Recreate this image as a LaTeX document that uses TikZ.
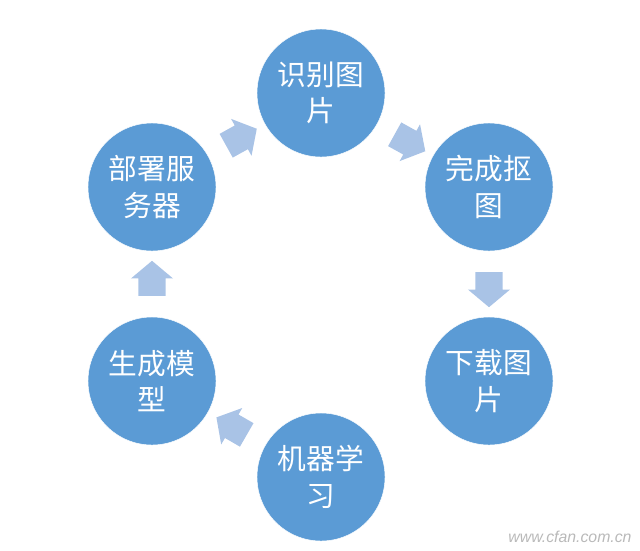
\documentclass[tikz,border=0pt]{standalone}
\usepackage{fontspec}
\newfontfamily\cjk{Noto Sans CJK SC}
\newfontfamily\marksf{Liberation Sans}
\usepackage{xcolor}
\usetikzlibrary{shapes.arrows, calc}

\definecolor{stepblue}{RGB}{91,155,213}
\definecolor{arrowblue}{RGB}{169,195,230}

\begin{document}
\begin{tikzpicture}[
        x=0.03cm,
        y=-0.03cm,
        stage/.style={
            circle,
            fill=stepblue,
            draw=white,
            thin,
            minimum size=3.84cm,
            inner sep=0pt,
            align=center,
            text=white,
            font=\cjk\fontsize{24.5}{31}\selectfont
        },
        flow/.style={
            single arrow,
            fill=arrowblue,
            draw=none,
            text height=0pt,
            text depth=0pt,
            inner xsep=0pt,
            inner ysep=0.4cm,
            minimum height=1.05cm,
            single arrow head extend=0.225cm,
            single arrow tip angle=100
        }
    ]
        \useasboundingbox (0,0) rectangle (640,550);

        % Stages
        \node [stage] (detect) at (321,93) {识别图\\片};
        \node [stage] (matting) at (489,187) {完成抠\\图};
        \node [stage] (download) at (489,381) {下载图\\片};
        \node [stage] (learn) at (321,477) {机器学\\习};
        \node [stage] (model) at (152,381) {生成模\\型};
        \node [stage] (deploy) at (152,187) {部署服\\务器};

        % Arrows
        \node [flow, rotate=29] (a1) at ($(deploy)!0.5!(detect)$) {};
        \node [flow, rotate=-29] (a2) at ($(detect)!0.5!(matting)$) {};
        \node [flow, rotate=-90] (a3) at ($(matting)!0.5!(download)$) {};
        \node [flow, rotate=150] (a4) at ($(learn)!0.5!(model)$) {};
        \node [flow, rotate=90] (a5) at ($(model)!0.5!(deploy)$) {};

        % Watermark
        \node [font=\marksf\itshape\fontsize{13.5}{13.5}\selectfont, text=gray!55] (mark) at (570,537) {www.cfan.com.cn};

    \end{tikzpicture}
\end{document}
